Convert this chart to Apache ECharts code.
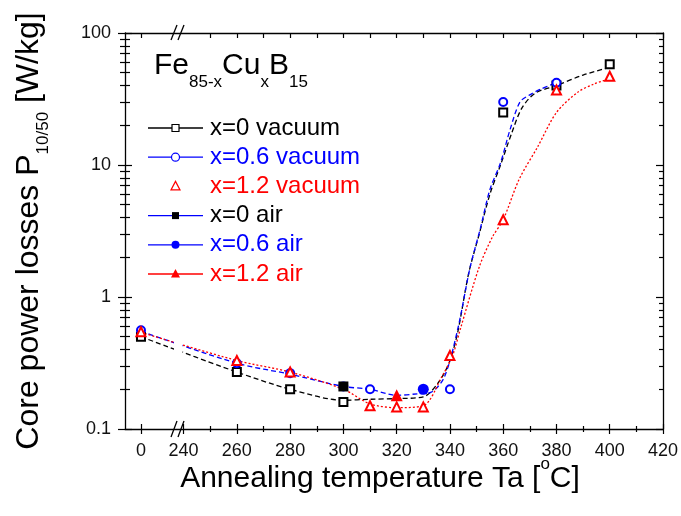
<!DOCTYPE html>
<html>
<head>
<meta charset="utf-8">
<script src="https://cdn.jsdelivr.net/npm/echarts@6/dist/echarts.min.js"></script>
<style>
html, body { margin: 0; padding: 0; background: #fff; }
#chart { width: 681px; height: 516px; }
</style>
</head>
<body>
<div id="chart"></div>
<script>
// the "0" point sits left of the axis break, drawn at this axis value
var ZERO_AT = 224;

// axis ticks
var xLabels = [0, 240, 260, 280, 300, 320, 340, 360, 380, 400, 420];
var xMinor = [250, 270, 290, 310, 330, 350, 370, 390, 410];
var yLabels = [0.1, 1, 10, 100];
var yMinor = [0.2, 0.3, 0.4, 0.5, 0.6, 0.7, 0.8, 0.9, 2, 3, 4, 5, 6, 7, 8, 9, 20, 30, 40, 50, 60, 70, 80, 90];

// measured points (markers)
var vac0X = [0, 260, 280, 300, 360, 380, 400];
var vac0Y = [0.5, 0.27, 0.2, 0.16, 25, 40, 58];
var vac06X = [0, 260, 280, 300, 310, 340, 360, 380];
var vac06Y = [0.56, 0.315, 0.265, 0.21, 0.2, 0.2, 30, 42];
var vac12X = [0, 260, 280, 310, 320, 330, 340, 360, 380, 400];
var vac12Y = [0.545, 0.33, 0.27, 0.15, 0.147, 0.147, 0.36, 3.85, 37, 47];
var air0X = [300];
var air0Y = [0.21];
var air06X = [330];
var air06Y = [0.2];
var air12X = [320];
var air12Y = [0.18];

// fitted curves
var fit0X = [0, 260, 280, 300, 310, 320, 330, 336, 340, 343, 347, 351, 355, 359, 363, 367, 372, 380, 390, 400];
var fit0Y = [0.5, 0.27, 0.2, 0.165, 0.168, 0.17, 0.175, 0.23, 0.33, 0.55, 1.5, 3.0, 6, 10, 17, 27, 35, 40, 48, 55];
var fit06X = [0, 260, 280, 300, 310, 320, 328, 333, 338, 343, 347.6, 351.3, 355, 359, 362.6, 366.3, 370, 374, 380];
var fit06Y = [0.55, 0.315, 0.26, 0.21, 0.2, 0.18, 0.185, 0.19, 0.25, 0.58, 1.69, 3.23, 6.5, 10.4, 18.6, 30, 34, 37.5, 42];
var fit12X = [0, 260, 280, 300, 310, 320, 330, 337, 341, 344, 351, 356, 360, 366, 373, 380, 388, 394, 400];
var fit12Y = [0.54, 0.33, 0.27, 0.2, 0.155, 0.145, 0.15, 0.25, 0.36, 0.58, 1.69, 2.86, 3.85, 7.8, 13.8, 25, 35.6, 41, 45];

// legend entries: text colour, line colour, marker, marker colour
var legendNames = ['x=0 vacuum', 'x=0.6 vacuum', 'x=1.2 vacuum', 'x=0 air', 'x=0.6 air', 'x=1.2 air'];
var legendText = ['#000', '#0000ff', '#ff0000', '#000', '#0000ff', '#ff0000'];
var legendLine = ['#000', '#0000ff', null, '#0000ff', '#0000ff', '#ff0000'];
var legendMark = ['emptyRect', 'emptyCircle', 'emptyTriangle', 'rect', 'circle', 'triangle'];
var legendMarkColor = ['#000', '#0000ff', '#ff0000', '#000', '#0000ff', '#ff0000'];

function axisX(v) {
    return v === 0 ? ZERO_AT : v;
}

function pairs(xs, ys) {
    return xs.map(function (x, i) { return [axisX(x), ys[i]]; });
}

var FONT = 'Liberation Sans, Arial, sans-serif';
var BLACK = '#000';
var BLUE = '#0000ff';
var RED = '#ff0000';

var myChart = echarts.init(document.getElementById('chart'));

var xBase = { type: 'value', min: 218, max: 420, splitLine: { show: false } };
var yBase = { type: 'log', logBase: 10, min: 0.1, max: 100, splitLine: { show: false } };
var tickLine = { color: BLACK, width: 1.2 };

function extraX(opts) {
    return Object.assign({}, xBase, {
        axisLine: { show: false }, axisLabel: { show: false }
    }, opts);
}
function extraY(opts) {
    return Object.assign({}, yBase, {
        axisLine: { show: false }, axisLabel: { show: false }
    }, opts);
}

// legend icons (line + marker) drawn next to the legend texts
var LEG_X0 = 148, LEG_X1 = 203, LEG_Y0 = 128, LEG_STEP = 29.2, LEG_FONT = 24;
function legendIcons() {
    var els = [];
    legendNames.forEach(function (name, i) {
        var y = LEG_Y0 + i * LEG_STEP;
        var cx = (LEG_X0 + LEG_X1) / 2;
        var c = legendMarkColor[i];
        var hollow = legendMark[i].indexOf('empty') === 0;
        var st = hollow ? { fill: '#fff', stroke: c, lineWidth: 1.2 } : { fill: c };
        if (legendLine[i]) {
            els.push({ type: 'line', z: 60, shape: { x1: LEG_X0, y1: y, x2: LEG_X1, y2: y },
                style: { stroke: legendLine[i], lineWidth: 1.3 } });
        }
        var m = legendMark[i].replace('empty', '').toLowerCase();
        if (m === 'rect') {
            els.push({ type: 'rect', z: 61, shape: { x: cx - 3.5, y: y - 3.5, width: 7, height: 7 }, style: st });
        } else if (m === 'circle') {
            els.push({ type: 'circle', z: 61, shape: { cx: cx, cy: y, r: 4 }, style: st });
        } else {
            els.push({ type: 'polygon', z: 61, shape: { points: [[cx, y - 5], [cx + 4.5, y + 3.5], [cx - 4.5, y + 3.5]] }, style: st });
        }
    });
    return els;
}

var xTickVals = xLabels.map(axisX);

var option = {
    animation: false,
    backgroundColor: '#fff',
    grid: { left: 125, right: 18, top: 33, bottom: 87, outerBoundsMode: 'none' },
    xAxis: [
        Object.assign({}, xBase, {
            position: 'bottom',
            axisLine: { show: true, lineStyle: { color: BLACK, width: 1.3 } },
            axisTick: { show: false },
            axisLabel: {
                customValues: xTickVals, margin: 13, fontSize: 18, color: '#111', fontFamily: FONT,
                formatter: function (v) { return v === ZERO_AT ? '0' : String(v); }
            },
            name: '{n|Annealing temperature Ta [}{s|o}{n|C]}',
            nameLocation: 'middle',
            nameGap: 27,
            nameMoveOverlap: false,
            nameTextStyle: {
                padding: [0, 28, 0, 0],
                rich: {
                    n: { fontSize: 30, fontFamily: FONT, color: BLACK, lineHeight: 38, verticalAlign: 'bottom' },
                    s: { fontSize: 17, fontFamily: FONT, color: BLACK, lineHeight: 17, verticalAlign: 'top' }
                }
            }
        }),
        extraX({ position: 'bottom', offset: -5, axisTick: { show: true, inside: false, length: 10, customValues: xTickVals, lineStyle: tickLine } }),
        extraX({ position: 'bottom', offset: -3, axisTick: { show: true, inside: false, length: 6, customValues: xMinor, lineStyle: tickLine } }),
        extraX({
            position: 'top',
            axisLine: { show: true, lineStyle: { color: BLACK, width: 1.3 } },
            axisTick: { show: true, inside: true, length: 5, customValues: [ZERO_AT].concat(xMinor, xLabels.slice(2)), lineStyle: tickLine }
        })
    ],
    yAxis: [
        Object.assign({}, yBase, {
            position: 'left',
            axisLine: { show: true, lineStyle: { color: BLACK, width: 1.3 } },
            axisTick: { show: false },
            axisLabel: {
                customValues: yLabels, margin: 14, fontSize: 18, color: '#111', fontFamily: FONT,
                formatter: function (v) { return String(+(+v).toPrecision(3)); }
            },
            name: '{n|Core power losses P}{s|10/50}{n| [W/kg]}',
            nameLocation: 'middle',
            nameRotate: 90,
            nameGap: 73,
            nameMoveOverlap: false,
            nameTextStyle: {
                rich: {
                    n: { fontSize: 32, fontFamily: FONT, color: BLACK, lineHeight: 36, verticalAlign: 'top' },
                    s: { fontSize: 17, fontFamily: FONT, color: BLACK, lineHeight: 39, verticalAlign: 'bottom' }
                }
            }
        }),
        extraY({ position: 'left', offset: -7, axisTick: { show: true, inside: false, length: 14, customValues: yLabels, lineStyle: tickLine } }),
        extraY({ position: 'left', offset: -5, axisTick: { show: true, inside: false, length: 10, customValues: yMinor, lineStyle: tickLine } }),
        extraY({
            position: 'right',
            axisLine: { show: true, lineStyle: { color: BLACK, width: 1.3 } },
            axisTick: { show: true, inside: true, length: 4, customValues: yMinor, lineStyle: tickLine }
        }),
        extraY({ position: 'right', axisTick: { show: true, inside: true, length: 7, customValues: yLabels, lineStyle: tickLine } })
    ],
    legend: {
        orient: 'vertical',
        left: 145,
        top: LEG_Y0 - LEG_FONT / 2 - 5,
        itemWidth: 55,
        itemHeight: 12,
        itemGap: LEG_STEP - LEG_FONT,
        textStyle: { fontSize: LEG_FONT, lineHeight: LEG_FONT, fontFamily: FONT },
        data: legendNames.map(function (name, i) {
            return { name: name, icon: 'rect', itemStyle: { color: 'rgba(0,0,0,0)', borderWidth: 0 }, textStyle: { color: legendText[i] } };
        })
    },
    graphic: [
        // gap in the curves at the axis break
        { type: 'rect', z: 50, shape: { x: 174, y: 38, width: 8.5, height: 382 }, style: { fill: '#fff' } },
        // break marks
        { type: 'line', z: 60, shape: { x1: 171, y1: 437, x2: 177, y2: 421 }, style: { stroke: BLACK, lineWidth: 1.3 } },
        { type: 'line', z: 60, shape: { x1: 178, y1: 437, x2: 184, y2: 421 }, style: { stroke: BLACK, lineWidth: 1.3 } },
        { type: 'line', z: 60, shape: { x1: 171, y1: 40, x2: 177, y2: 25 }, style: { stroke: BLACK, lineWidth: 1.3 } },
        { type: 'line', z: 60, shape: { x1: 178, y1: 40, x2: 184, y2: 25 }, style: { stroke: BLACK, lineWidth: 1.3 } },
        {
            type: 'text', z: 60, left: 154, top: 51,
            style: {
                text: '{a|Fe}{s|85-x}{a|Cu}{s|x}{a|B}{s|15}',
                rich: {
                    a: { fontSize: 30, fontFamily: FONT, fill: BLACK, lineHeight: 30, verticalAlign: 'top' },
                    s: { fontSize: 17, fontFamily: FONT, fill: BLACK, lineHeight: 40, verticalAlign: 'bottom' }
                }
            }
        }
    ].concat(legendIcons()),
    series: [
        // fitted curves
        { name: 'fit x=0', type: 'line', smooth: 0.3, symbol: 'none', silent: true, data: pairs(fit0X, fit0Y),
          lineStyle: { color: BLACK, width: 1.3, type: [5, 3] }, z: 2 },
        { name: 'fit x=0.6', type: 'line', smooth: 0.3, symbol: 'none', silent: true, data: pairs(fit06X, fit06Y),
          lineStyle: { color: BLUE, width: 1.3, type: [5, 3] }, z: 2 },
        { name: 'fit x=1.2', type: 'line', smooth: 0.3, symbol: 'none', silent: true, data: pairs(fit12X, fit12Y),
          lineStyle: { color: RED, width: 1.3, type: [2, 2] }, z: 2 },
        // measured points
        { name: 'x=0 vacuum', type: 'line', data: pairs(vac0X, vac0Y), symbol: 'emptyRect', symbolSize: 8,
          itemStyle: { color: BLACK, borderWidth: 1.2 }, lineStyle: { width: 0, opacity: 0 }, z: 4 },
        { name: 'x=0.6 vacuum', type: 'line', data: pairs(vac06X, vac06Y), symbol: 'emptyCircle', symbolSize: 8,
          itemStyle: { color: BLUE, borderWidth: 1.2 }, lineStyle: { width: 0, opacity: 0 }, z: 4 },
        { name: 'x=1.2 vacuum', type: 'line', data: pairs(vac12X, vac12Y), symbol: 'emptyTriangle', symbolSize: 9,
          itemStyle: { color: RED, borderWidth: 1.2 }, lineStyle: { width: 0, opacity: 0 }, z: 4 },
        { name: 'x=0 air', type: 'line', data: pairs(air0X, air0Y), symbol: 'rect', symbolSize: 10,
          itemStyle: { color: BLACK }, lineStyle: { width: 0, opacity: 0 }, z: 5 },
        { name: 'x=0.6 air', type: 'line', data: pairs(air06X, air06Y), symbol: 'circle', symbolSize: 11,
          itemStyle: { color: BLUE }, lineStyle: { width: 0, opacity: 0 }, z: 5 },
        { name: 'x=1.2 air', type: 'line', data: pairs(air12X, air12Y), symbol: 'triangle', symbolSize: 12,
          itemStyle: { color: RED }, lineStyle: { width: 0, opacity: 0 }, z: 5 }
    ]
};

myChart.setOption(option);
</script>
</body>
</html>
